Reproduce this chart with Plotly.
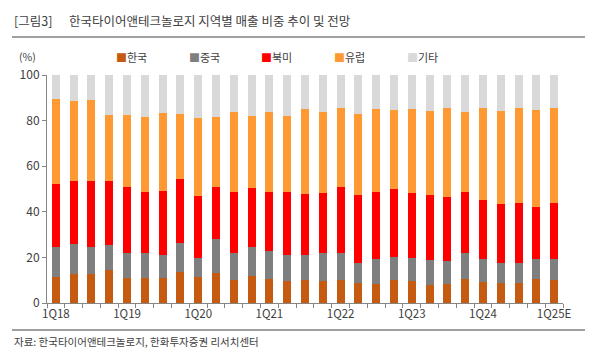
import plotly.graph_objects as go

quarters = []
for yr in range(18, 25):
    for q in range(1, 5):
        quarters.append(f"{q}Q{yr}")
quarters.append("1Q25E")

tick_labels = [q if q.startswith("1Q") else "" for q in quarters]

# cumulative tops
top_korea = [11.5, 12.7, 12.7, 14.3, 10.8, 11.1, 10.8, 13.6, 11.5, 13.3,
             10.2, 11.7, 10.7, 9.6, 9.9, 9.6, 9.9, 8.9, 8.5, 10.2,
             9.6, 7.9, 8.2, 10.7, 9.2, 8.8, 8.9, 10.7, 9.9]
top_china = [24.5, 25.8, 24.5, 25.3, 21.9, 21.9, 21.2, 26.1, 19.7, 28.2,
             21.9, 24.5, 22.8, 21.2, 20.9, 21.9, 21.9, 17.4, 19.4, 20.1,
             19.6, 18.7, 18.4, 21.9, 19.4, 17.7, 17.5, 19.4, 19.4]
top_na = [52.4, 53.6, 53.4, 53.6, 50.7, 48.5, 49.3, 54.2, 47.0, 50.9,
          48.9, 50.4, 48.9, 48.5, 48.0, 48.2, 50.8, 47.4, 48.8, 49.8,
          48.3, 47.4, 46.6, 48.5, 45.1, 43.5, 43.8, 42.0, 43.8]
top_eu = [89.6, 88.5, 89.2, 82.6, 82.6, 81.5, 83.5, 82.9, 81.2, 81.8,
          83.9, 81.9, 83.6, 82.0, 85.1, 83.6, 85.4, 83.1, 85.0, 84.7,
          85.3, 84.2, 85.5, 83.9, 85.4, 84.1, 85.4, 84.8, 85.5]

korea = [round(v, 1) for v in top_korea]
china = [round(c - k, 1) for c, k in zip(top_china, top_korea)]
north_america = [round(n - c, 1) for n, c in zip(top_na, top_china)]
europe = [round(e - n, 1) for e, n in zip(top_eu, top_na)]
others = [round(100 - e, 1) for e in top_eu]

series_names = ["한국", "중국", "북미", "유럽", "기타"]
series_values = [korea, china, north_america, europe, others]
colors = ["#C55A11", "#7F7F7F", "#FF0000", "#FF9933", "#D9D9D9"]

FONT = "Noto Sans CJK KR"

fig = go.Figure()
for name, vals, col in zip(series_names, series_values, colors):
    fig.add_trace(go.Bar(x=quarters, y=vals, name=name, marker_color=col,
                         marker_line_width=0, showlegend=False))

fig.update_layout(
    barmode="stack",
    bargap=0.55,
    width=600, height=357,
    margin=dict(l=47, r=37, t=75, b=54),
    paper_bgcolor="white", plot_bgcolor="white",
    font=dict(family=FONT, size=12, color="#404040"),
)
fig.update_yaxes(range=[0, 100], tickvals=[0, 20, 40, 60, 80, 100],
                 showgrid=False, showline=True, linecolor="#868686", linewidth=1,
                 ticks="outside", ticklen=4, tickcolor="#868686",
                 tickfont=dict(size=12, color="#404040"), zeroline=False)
fig.update_xaxes(type="category", tickvals=quarters, ticktext=tick_labels,
                 tickson="boundaries", ticks="outside", ticklen=4, tickcolor="#868686",
                 showline=True, linecolor="#868686", linewidth=1, showgrid=False,
                 tickangle=0, tickfont=dict(size=11.5, color="#404040"))

# title
fig.add_annotation(x=12, y=21, text="[그림3]",
                   showarrow=False, xanchor="left", yanchor="middle",
                   font=dict(size=12.5, color="#404040", family=FONT))
fig.add_annotation(x=67, y=21, text="한국타이어앤테크놀로지 지역별 매출 비중 추이 및 전망",
                   showarrow=False, xanchor="left", yanchor="middle",
                   font=dict(size=12.5, color="#404040", family=FONT))
# unit
fig.add_annotation(x=17, y=56, text="(%)", showarrow=False, xanchor="left", yanchor="middle",
                   font=dict(size=10.5, color="#404040", family=FONT))
# legend
leg_x = [114, 187, 259, 332, 405]
for lx, name, col in zip(leg_x, series_names, colors):
    fig.add_annotation(x=lx, y=57, text=f"<span style='color:{col}'>■</span>{name}",
                       showarrow=False, xanchor="left", yanchor="middle",
                       font=dict(size=11, color="#404040", family=FONT))
# source
fig.add_annotation(x=12, y=341, text="자료: 한국타이어앤테크놀로지, 한화투자증권 리서치센터",
                   showarrow=False, xanchor="left", yanchor="middle",
                   font=dict(size=10.5, color="#404040", family=FONT))

# convert pixel coords for annotations
for a in fig.layout.annotations:
    px, py = a.x, a.y
    a.xref = "paper"; a.yref = "paper"
    a.x = (px - 47) / (600 - 47 - 37)
    a.y = (357 - 54 - py) / (357 - 75 - 54)

# separator lines
for yline in [37, 330]:
    fig.add_shape(type="line", xref="paper", yref="paper",
                  x0=(12 - 47) / 516, x1=(585 - 47) / 516,
                  y0=(303 - yline) / 228, y1=(303 - yline) / 228,
                  line=dict(color="#808080", width=1.5))

fig.write_html("out.html", config={"displayModeBar": False},
               post_script="document.body.style.margin='0';document.body.style.overflow='hidden';")
